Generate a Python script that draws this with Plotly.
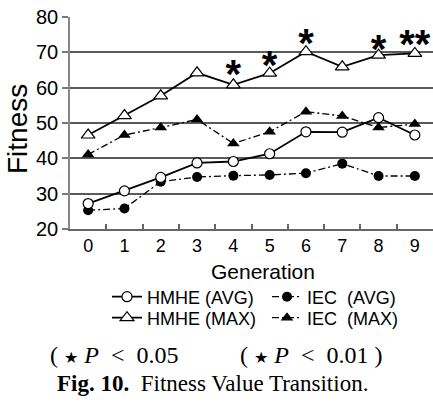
import plotly.graph_objects as go

generations = ["0", "1", "2", "3", "4", "5", "6", "7", "8", "9"]
hmhe_avg = [27.2, 30.8, 34.6, 38.7, 39.1, 41.3, 47.5, 47.4, 51.5, 46.6]
hmhe_max = [46.6, 52.1, 57.7, 64.2, 60.8, 64.1, 70.2, 65.9, 69.2, 69.7]
iec_avg = [25.3, 25.8, 33.4, 34.7, 35.1, 35.3, 35.8, 38.5, 35.0, 35.0]
iec_max = [41.1, 46.6, 48.7, 51.0, 44.2, 47.5, 53.2, 52.0, 48.7, 49.7]

sig_x = ["4", "5", "6", "8", "9"]
sig_y = [62.8, 65.4, 71.6, 69.9, 71.3]
sig_txt = ["*", "*", "*", "*", "**"]

y_ticks = [20, 30, 40, 50, 60, 70, 80]

SANS = "Liberation Sans, Arial, sans-serif"
SERIF = "Liberation Serif, Times New Roman, serif"
DASHDOT = "7px,3px,2px,3px"

fig = go.Figure()

fig.add_trace(go.Scatter(
    x=generations, y=iec_avg, name="IEC\u00a0 (AVG)", mode="lines+markers",
    line=dict(color="black", width=1.3, dash=DASHDOT),
    marker=dict(symbol="circle", size=10, color="black"),
    legend="legend2"))
fig.add_trace(go.Scatter(
    x=generations, y=iec_max, name="IEC\u00a0 (MAX)", mode="lines+markers",
    line=dict(color="black", width=1.3, dash=DASHDOT),
    marker=dict(symbol="triangle-up", size=11, color="black"),
    legend="legend4"))
fig.add_trace(go.Scatter(
    x=generations, y=hmhe_avg, name="HMHE (AVG)", mode="lines+markers",
    line=dict(color="black", width=1.8),
    marker=dict(symbol="circle", size=10, color="white",
                line=dict(color="black", width=1.2)),
    legend="legend"))
fig.add_trace(go.Scatter(
    x=generations, y=hmhe_max, name="HMHE (MAX)", mode="lines+markers",
    line=dict(color="black", width=1.8),
    marker=dict(symbol="triangle-up", size=12, color="white",
                line=dict(color="black", width=1.2)),
    legend="legend3"))

fig.add_trace(go.Scatter(
    x=sig_x, y=sig_y, text=sig_txt, mode="text", showlegend=False,
    textposition="middle center", cliponaxis=False,
    textfont=dict(family=SANS, size=40, color="black", weight="bold")))

W, H = 433, 404
L, R, T, B = 70, 0, 17, 175
pw, ph = W - L - R, H - T - B


def px(xp):
    return (xp - L) / pw


def py(yp):
    return (H - B - yp) / ph


leg_common = dict(orientation="v", xanchor="left", yanchor="middle",
                  bgcolor="rgba(0,0,0,0)", borderwidth=0,
                  font=dict(family=SANS, size=18, color="black"))

NB = "\u00a0"
STAR = "<span style='font-family:DejaVu Sans;font-size:16px'>\u2605</span>"
p05 = "(" + NB + STAR + NB + "<i>P</i>" + NB + NB + "&lt;" + NB + NB + "0.05"
p01 = "(" + NB + STAR + NB + "<i>P</i>" + NB + NB + "&lt;" + NB + NB + "0.01" + NB + ")"

fig.update_layout(
    width=W, height=H,
    margin=dict(l=L, r=R, t=T, b=B, pad=0),
    paper_bgcolor="white", plot_bgcolor="white",
    font=dict(family=SANS, color="black"),
    legend=dict(x=px(107), y=py(297), **leg_common),
    legend2=dict(x=px(267), y=py(297), **leg_common),
    legend3=dict(x=px(107), y=py(318), **leg_common),
    legend4=dict(x=px(267), y=py(318), **leg_common),
    xaxis=dict(
        type="category", tickson="boundaries", ticks="inside", ticklen=5,
        tickcolor="#666", tickwidth=1.5,
        showline=True, linecolor="#666", linewidth=1.5,
        showgrid=False, zeroline=False,
        tickfont=dict(family=SANS, size=18, color="black"),
        range=[-0.5, 9.5]),
    yaxis=dict(
        range=[20, 80], tickvals=y_ticks, ticks="outside", ticklen=6,
        tickcolor="#777", tickwidth=1.5,
        showline=True, linecolor="#888", linewidth=1.5,
        showgrid=True, gridcolor="#5a5a5a", gridwidth=1.5,
        zeroline=False,
        tickfont=dict(family=SANS, size=20, color="black")),
    annotations=[
        dict(text="Fitness", textangle=-90, x=px(17), y=py(129),
             xref="paper", yref="paper", showarrow=False,
             xanchor="center", yanchor="middle",
             font=dict(family=SANS, size=28, color="black")),
        dict(text="Generation", x=px(263), y=py(271),
             xref="paper", yref="paper", showarrow=False,
             xanchor="center", yanchor="middle",
             font=dict(family=SANS, size=21, color="black")),
        dict(text=p05, x=px(48), y=py(355),
             xref="paper", yref="paper", showarrow=False,
             xanchor="left", yanchor="middle",
             font=dict(family=SERIF, size=24, color="black")),
        dict(text=p01, x=px(238), y=py(355),
             xref="paper", yref="paper", showarrow=False,
             xanchor="left", yanchor="middle",
             font=dict(family=SERIF, size=24, color="black")),
        dict(text="<b>Fig. 10.</b>" + NB + " Fitness Value Transition.", x=px(55), y=py(383),
             xref="paper", yref="paper", showarrow=False,
             xanchor="left", yanchor="middle",
             font=dict(family=SERIF, size=23, color="black")),
    ],
)

fig.write_html("out.html")
